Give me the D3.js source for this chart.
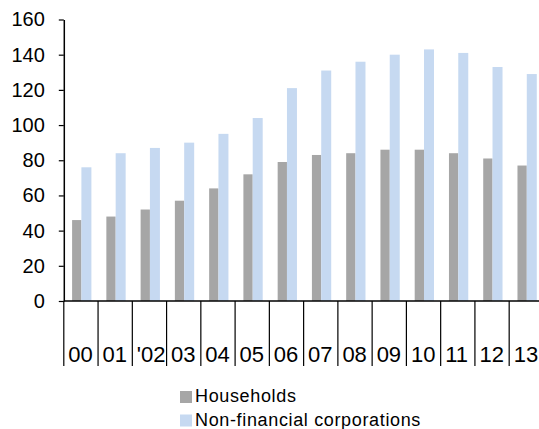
<!DOCTYPE html>
<html>
<head>
<meta charset="utf-8">
<script src="https://cdn.jsdelivr.net/npm/d3@7"></script>
<style>
  body { margin: 0; background: #fff; }
  text { font-family: "Liberation Sans", Arial, sans-serif; fill: #000; }
</style>
</head>
<body>
<div id="chart"></div>
<script>
var years = ["00", "01", "'02", "03", "04", "05", "06", "07", "08", "09", "10", "11", "12", "13"];
var households = [46, 48, 52, 57, 64, 72, 79, 83, 84, 86, 86, 84, 81, 77];
var corporations = [76, 84, 87, 90, 95, 104, 121, 131, 136, 140, 143, 141, 133, 129];
var yTicks = [0, 20, 40, 60, 80, 100, 120, 140, 160];
var seriesNames = ["Households", "Non-financial corporations"];
var colors = ["#a6a6a6", "#c6d9f1"];

var width = 539, height = 429;
var margin = { top: 20, right: 4, bottom: 128, left: 63.8 };

var svg = d3.select("#chart").append("svg")
  .attr("width", width)
  .attr("height", height);

// the last category runs past the right edge, as in the original
var x = d3.scaleBand()
  .domain(years)
  .range([margin.left, margin.left + 14 * 34.26]);

var y = d3.scaleLinear()
  .domain([0, 160])
  .range([height - margin.bottom, margin.top - 0.5]);

var barW = 9.3;
var barOff = 8.3;

// bars
var g = svg.append("g");
years.forEach(function(yr, i) {
  g.append("rect")
    .attr("x", x(yr) + barOff)
    .attr("y", y(households[i]))
    .attr("width", barW)
    .attr("height", y(0) - y(households[i]))
    .attr("fill", colors[0]);
  g.append("rect")
    .attr("x", x(yr) + barOff + barW)
    .attr("y", y(corporations[i]))
    .attr("width", barW + 0.7)
    .attr("height", y(0) - y(corporations[i]))
    .attr("fill", colors[1]);
});

// y axis
var yAxis = svg.append("g")
  .attr("transform", "translate(" + margin.left + ",0)")
  .call(d3.axisLeft(y).tickValues(yTicks).tickSize(5).tickPadding(14).tickSizeOuter(0));
yAxis.select(".domain").attr("stroke", "#000").attr("stroke-width", 1.5);
yAxis.selectAll(".tick line").attr("stroke", "#000").attr("stroke-width", 1.2);
yAxis.selectAll("text").style("font-size", "20px").attr("font-family", null);

// x axis line
svg.append("line")
  .attr("x1", margin.left).attr("x2", width)
  .attr("y1", y(0)).attr("y2", y(0))
  .attr("stroke", "#000").attr("stroke-width", 1.5);

// category separators
var seps = years.map(function(yr) { return x(yr); });
svg.selectAll(".sep").data(seps).enter().append("line")
  .attr("x1", function(d) { return d; })
  .attr("x2", function(d) { return d; })
  .attr("y1", y(0))
  .attr("y2", y(0) + 65)
  .attr("stroke", "#000").attr("stroke-width", 1.2);

svg.selectAll(".xlab").data(years).enter().append("text")
  .attr("x", function(d) { return x(d) + 4.5; })
  .attr("y", y(0) + 60.5)
  .style("font-size", "22px")
  .text(function(d) { return d; });

// legend
var leg = svg.append("g");
seriesNames.forEach(function(name, i) {
  leg.append("rect")
    .attr("x", 180).attr("y", 391 + i * 23.5)
    .attr("width", 12).attr("height", 12)
    .attr("fill", colors[i]);
  leg.append("text")
    .attr("x", 195).attr("y", 402 + i * 23.5)
    .style("font-size", "18px")
    .style("letter-spacing", "0.65px")
    .text(name);
});
</script>
</body>
</html>
